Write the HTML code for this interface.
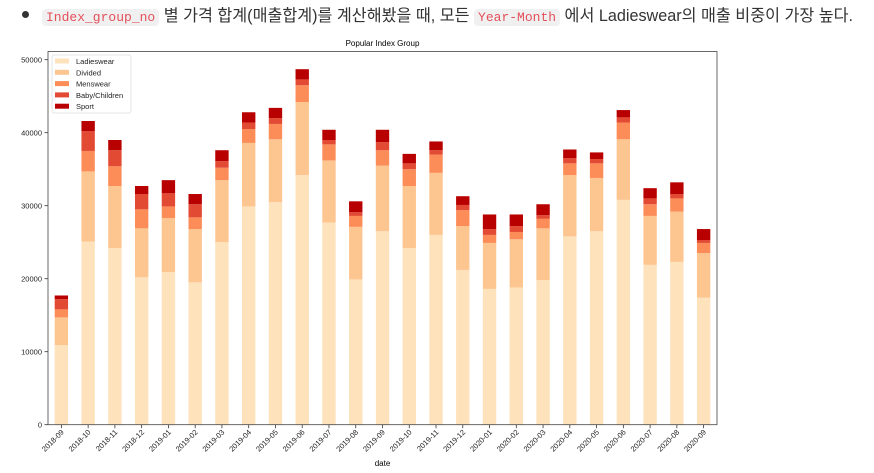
<!DOCTYPE html>
<html><head><meta charset="utf-8">
<style>
body{margin:0;width:874px;height:473px;background:#fff;overflow:hidden;position:relative;font-family:"Liberation Sans","Noto Sans CJK KR",sans-serif;}
#hdr{position:absolute;left:22px;top:5px;font-size:16.2px;color:#333;white-space:nowrap;line-height:22px;}
#hdr .dot{display:inline-block;width:7px;height:7px;border-radius:50%;background:#333;margin-right:13px;vertical-align:middle;position:relative;top:-2px}
code{font-family:"Liberation Mono",monospace;color:#e4505a;background:#f0f0f0;border-radius:4px;padding:1px 4px;font-size:13px}
svg{position:absolute;left:0;top:0}
</style></head><body>
<div id="hdr"><span class="dot"></span><code>Index_group_no</code> 별 가격 합계(매출합계)를 계산해봤을 때, 모든 <code>Year-Month</code> 에서 Ladieswear의 매출 비중이 가장 높다.</div>
<svg id="chart" width="874" height="473" font-family="Liberation Sans, DejaVu Sans, sans-serif"></svg>
<script>
const categories=["2018-09","2018-10","2018-11","2018-12","2019-01","2019-02","2019-03","2019-04","2019-05","2019-06","2019-07","2019-08","2019-09","2019-10","2019-11","2019-12","2020-01","2020-02","2020-03","2020-04","2020-05","2020-06","2020-07","2020-08","2020-09"];
const seriesNames=["Ladieswear","Divided","Menswear","Baby/Children","Sport"];
const ladieswear=[10900,25100,24200,20200,20900,19500,25000,29900,30500,34200,27700,19900,26500,24200,26000,21200,18600,18800,19800,25800,26500,30800,21900,22300,17400];
const divided=[3800,9600,8500,6700,7400,7300,8500,8700,8600,10000,8500,7200,9000,8500,8500,6000,6300,6600,7100,8400,7300,8300,6700,6900,6100];
const menswear=[1100,2800,2700,2600,1600,1600,1700,1900,2100,2300,2200,1500,2100,2300,2500,2200,1100,1000,1300,1600,2000,2300,1600,1800,1400];
const babyChildren=[1400,2700,2200,2100,1800,1800,900,900,800,800,600,500,1100,800,600,700,800,800,500,700,600,700,800,600,400];
const sport=[500,1400,1400,1100,1800,1400,1500,1400,1400,1400,1400,1500,1700,1300,1200,1200,2000,1600,1500,1200,900,1000,1400,1600,1500];
const yTicks=[0,10000,20000,30000,40000,50000];
const colors=["#fee2bc","#fdc590","#fc8d59","#e34a33","#b80000"];
const series=[ladieswear,divided,menswear,babyChildren,sport];
const NS="http://www.w3.org/2000/svg";
const svg=document.getElementById('chart');
const L=48,R=717,T=51.5,B=424.7;
const yMax=50000*(B-T)/(B-59.7);
const y=v=>B-v/yMax*(B-T);
const step=(R-L)/categories.length;
const x=i=>L+step*(i+0.5);
function mk(tag,attrs,parent){const e=document.createElementNS(NS,tag);for(const k in attrs)e.setAttribute(k,attrs[k]);(parent||svg).appendChild(e);return e;}
const t=mk('text',{x:(L+R)/2,y:46,'text-anchor':'middle','font-size':8,fill:'#000'});


t.textContent='Popular Index Group';
const bw=step*0.5;
categories.forEach((c,i)=>{
  let acc=0;
  series.forEach((s,k)=>{
    const r=mk('rect',{x:x(i)-bw/2,y:y(acc+s[i]),width:bw,height:y(acc)-y(acc+s[i]),fill:colors[k]});
    
    
    acc+=s[i];
  });
  mk('line',{x1:x(i),x2:x(i),y1:B,y2:B+3.5,stroke:'#333','stroke-width':0.8});
  const lb=mk('text',{x:0,y:0,'font-size':7.5,fill:'#222','text-anchor':'end',transform:`translate(${x(i)+3},${B+8}) rotate(-45)`});
  
  
  lb.textContent=c;
});
yTicks.forEach(v=>{
  mk('line',{x1:L-3.5,x2:L,y1:y(v),y2:y(v),stroke:'#333','stroke-width':0.8});
  const tl=mk('text',{x:L-6,y:y(v)+2.7,'font-size':7.5,fill:'#222','text-anchor':'end'});
  
  
  tl.textContent=v;
});
const frame=mk('rect',{x:L,y:T,width:R-L,height:B-T,fill:'none',stroke:'#444','stroke-width':0.8});


const xt=mk('text',{x:(L+R)/2,y:466,'text-anchor':'middle','font-size':8,fill:'#000'});


xt.textContent='date';
const lg=mk('g',{});


mk('rect',{x:52,y:55,width:79,height:58,fill:'#fff',stroke:'#ddd','stroke-width':0.8,rx:2},lg);
seriesNames.forEach((n,k)=>{
  mk('rect',{x:55,y:58.5+k*11.3,width:14,height:5,fill:colors[k]},lg);
  const e=mk('text',{x:76,y:64+k*11.3,'font-size':7.5,fill:'#222'},lg);
  
  
  e.textContent=n;
});
</script>
</body></html>
